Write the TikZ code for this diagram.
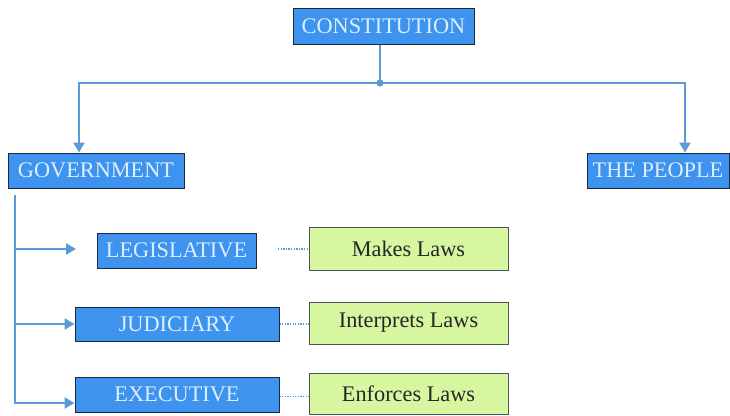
\documentclass[tikz,border=0pt]{standalone}
\usepackage{fontspec}
\setmainfont{Liberation Serif}
\usetikzlibrary{arrows.meta}
\definecolor{boxblue}{HTML}{3D93EE}
\definecolor{boxtext}{HTML}{DCEEFF}
\definecolor{linecol}{HTML}{5A9AD8}
\definecolor{boxgreen}{HTML}{D6F7A0}
\definecolor{edgecol}{HTML}{1E2A3A}
\begin{document}
\begin{tikzpicture}[x=1pt,y=-1pt,
  bluebox/.style={draw=edgecol,line width=1pt,fill=boxblue,text=boxtext,inner sep=0pt,font=\fontsize{22.3}{25}\selectfont},
  greenbox/.style={draw=edgecol!80,line width=1pt,fill=boxgreen,text=black!85,inner sep=0pt,font=\fontsize{22.3}{25}\selectfont},
  conn/.style={draw=linecol,line width=2.3pt},
  arr/.style={conn,-{Triangle[width=11pt,length=10pt]}},
  dots/.style={draw=linecol,line width=1.3pt,dash pattern=on 1.3pt off 1.3pt}]
\useasboundingbox (0,0) rectangle (730,415);
\fill[white] (0,0) rectangle (730,415);
% nodes
\node[bluebox,minimum width=181pt,minimum height=36pt] (con) at (383.5,26) {CONSTITUTION};
\node[bluebox,minimum width=176pt,minimum height=35pt] (gov) at (96,170.5) {GOVERNMENT};
\node[bluebox,minimum width=142pt,minimum height=35pt] (ppl) at (658,170.5) {THE PEOPLE};
\node[bluebox,minimum width=159pt,minimum height=35pt] (leg) at (176.5,250.5) {LEGISLATIVE};
\node[bluebox,minimum width=204pt,minimum height=34pt] (jud) at (177,324) {JUDICIARY};
\node[bluebox,minimum width=204pt,minimum height=35pt] (exe) at (177,394.5) {EXECUTIVE};
\node[greenbox,minimum width=199pt,minimum height=43pt] (ml) at (408.5,248.5) {Makes Laws};
\node[greenbox,minimum width=199pt,minimum height=42pt] (il) at (408.5,323) {Interprets Laws};
\node[greenbox,minimum width=199pt,minimum height=41pt] (el) at (408.5,393.5) {Enforces Laws};
% coordinates
\coordinate (j) at (380,83);
\coordinate (gl) at (79,83);
\coordinate (pr) at (685,83);
\coordinate (t) at (15,195);
\coordinate (la) at (76,249);
\coordinate (ld) at (278,249);
% connectors
\draw[conn] (con.south -| j) -- (j);
\fill[linecol] (j) circle (3.6pt);
\draw[arr] (j) -- (gl) -- (gl |- gov.north);
\draw[arr] (j) -- (pr) -- (pr |- ppl.north);
\draw[arr] (t) |- (la);
\draw[arr] (t) |- (jud.west);
\draw[arr] (t) |- ([yshift=-8.5pt]exe.west);
\draw[dots] (ld) -- (ld -| ml.west);
\draw[dots] (jud.east) -- (jud.east -| il.west);
\draw[dots] ([yshift=-2pt]exe.east) -- ([yshift=-2pt]exe.east -| el.west);
\end{tikzpicture}
\end{document}
